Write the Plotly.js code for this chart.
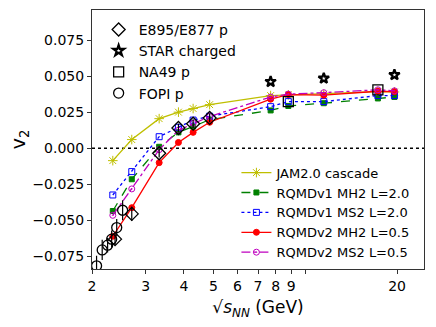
<!DOCTYPE html>
<html>
<head>
<meta charset="utf-8">
<script src="https://cdn.plot.ly/plotly-3.0.1.min.js"></script>
<style>
  body { margin: 0; }
  #chart { width: 436px; height: 327px; }
</style>
</head>
<body>
<div id="chart"></div>
<script>
// model energies (GeV)
const model_energies = [2.34, 2.7, 3.32, 3.84, 4.29, 4.86, 7.7, 8.8, 11.5, 17.3, 19.6];
const jam_cascade = [-0.0086, 0.0060, 0.0205, 0.0250, 0.0275, 0.0302, 0.0365, 0.0370, 0.0375, 0.0392, 0.0390];
const rqmd1_mh2 = [-0.0435, -0.0215, 0.0010, 0.0110, 0.0150, 0.0198, 0.0262, 0.0293, 0.0312, 0.0345, 0.0355];
const rqmd1_ms2 = [-0.0324, -0.0162, 0.0080, 0.0145, 0.0195, 0.0222, 0.0288, 0.0323, 0.0323, 0.0365, 0.0365];
const rqmd2_mh2 = [-0.0610, -0.0412, -0.0100, 0.0040, 0.0110, 0.0180, 0.0340, 0.0372, 0.0368, 0.0395, 0.0392];
const rqmd2_ms2 = [-0.0465, -0.0282, -0.0010, 0.0125, 0.0172, 0.0220, 0.0355, 0.0375, 0.0385, 0.0405, 0.0398];

// experimental data
const e895_x = [2.38, 2.7, 3.32, 3.84, 4.29, 4.86];
const e895_y = [-0.0630, -0.0455, -0.0035, 0.0140, 0.0170, 0.0210];
const e895_err = [0.004, 0.005, 0.003, 0.003, 0.003, 0.003];

const star_x = [7.7, 11.5, 19.6];
const star_y = [0.0461, 0.0484, 0.0508];

const na49_x = [8.8, 17.3];
const na49_y = [0.0323, 0.0405];

const fopi_x = [2.07, 2.16, 2.25, 2.32, 2.41, 2.52];
const fopi_y = [-0.0815, -0.0705, -0.0672, -0.0630, -0.0550, -0.0430];
const fopi_err = [0.007, 0.007, 0.005, 0.006, 0.006, 0.007];

const x_ticks = [2, 3, 4, 5, 6, 7, 8, 9, 20];
const x_ticktext = ["2", "3", "4", "5", "6", "7", "8", "9", "20"];
const y_ticks = [-0.075, -0.05, -0.025, 0, 0.025, 0.05, 0.075];

const model = (name, y, color, dash, symbol, size) => ({
    name,
    x: model_energies,
    y,
    mode: "lines+markers",
    type: "scatter",
    legend: "legend2",
    line: { color, dash, width: 1.3 },
    marker: { color, symbol, size, line: { color, width: 1 } },
});

const data = [
    model("JAM2.0 cascade", jam_cascade, "#bfbf00", "solid", "asterisk-open", 8),
    model("RQMDv1 MH2 L=2.0", rqmd1_mh2, "#008000", "dash", "square", 5),
    model("RQMDv1 MS2 L=2.0", rqmd1_ms2, "#0000ff", "dot", "square-open", 6),
    model("RQMDv2 MH2 L=0.5", rqmd2_mh2, "#ff0000", "solid", "circle", 6),
    model("RQMDv2 MS2 L=0.5", rqmd2_ms2, "#bf00bf", "dashdot", "circle-open-dot", 6),
    {
        name: "E895/E877 p",
        x: e895_x,
        y: e895_y,
        error_y: { type: "data", array: e895_err, color: "black", thickness: 1.2, width: 0 },
        mode: "markers",
        type: "scatter",
        marker: { symbol: "diamond-open", size: 10, color: "black", line: { width: 1.3 } },
    },
    {
        name: "STAR charged",
        x: star_x,
        y: star_y,
        mode: "markers",
        type: "scatter",
        marker: { symbol: "star-open", size: 8, color: "black", line: { width: 2.2 } },
    },
    {
        name: "NA49 p",
        x: na49_x,
        y: na49_y,
        mode: "markers",
        type: "scatter",
        marker: { symbol: "square-open", size: 10, color: "black", line: { width: 1.3 } },
    },
    {
        name: "FOPI p",
        x: fopi_x,
        y: fopi_y,
        error_y: { type: "data", array: fopi_err, color: "black", thickness: 1.2, width: 0 },
        mode: "markers",
        type: "scatter",
        marker: { symbol: "circle-open", size: 10, color: "black", line: { width: 1.3 } },
    },
];

const y_range = [-0.0837, 0.0958];

const layout = {
    width: 436,
    height: 327,
    margin: { l: 92, r: 12, t: 10, b: 58 },
    paper_bgcolor: "white",
    plot_bgcolor: "white",
    font: { family: "DejaVu Sans", size: 14, color: "black" },
    showlegend: true,
    legend: {
        x: 0.02, y: 0.985, xanchor: "left", yanchor: "top",
        bgcolor: "rgba(0,0,0,0)", font: { size: 14 },
    },
    legend2: {
        x: 0.435, y: 0.43, xanchor: "left", yanchor: "top",
        bgcolor: "rgba(0,0,0,0)", font: { size: 13 },
    },
    xaxis: {
        type: "log",
        range: [Math.log10(2), Math.log10(24.5)],
        tickvals: x_ticks,
        ticktext: x_ticktext,
        ticks: "outside", ticklen: 4, tickcolor: "#333",
        minor: { tickvals: [10], ticks: "outside", ticklen: 4, tickcolor: "#333" },
        showline: true, linecolor: "#333", linewidth: 1, mirror: true,
        showgrid: false, zeroline: false,
        title: { text: "√<i>s</i><sub><i>NN</i></sub> (GeV)", font: { size: 17 }, standoff: 8 },
    },
    yaxis: {
        range: y_range,
        tickvals: y_ticks,
        tickformat: ".3f",
        ticks: "outside", ticklen: 4, tickcolor: "#333",
        showline: true, linecolor: "#333", linewidth: 1, mirror: true,
        showgrid: false, zeroline: false,
        title: { text: "v<sub>2</sub>", font: { size: 19 }, standoff: 1 },
    },
    yaxis2: {
        overlaying: "y", side: "right", range: y_range,
        tickvals: y_ticks, ticks: "inside", ticklen: 4, tickcolor: "#333",
        showticklabels: false, showgrid: false, zeroline: false, showline: false,
    },
    shapes: [
        {
            type: "line", xref: "paper", x0: 0, x1: 1, yref: "y", y0: 0, y1: 0,
            line: { color: "black", width: 1.5, dash: "dot" },
            layer: "below",
        },
    ],
};

Plotly.newPlot("chart", data, layout, { displayModeBar: false, staticPlot: true });
</script>
</body>
</html>
